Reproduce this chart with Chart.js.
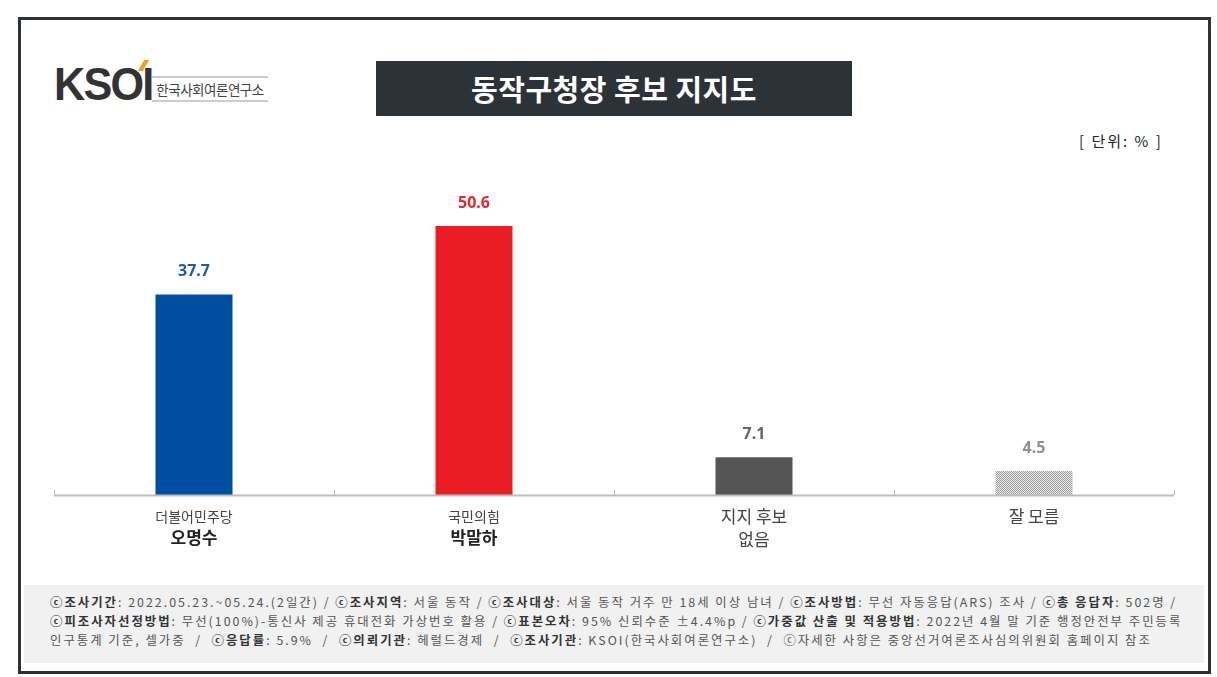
<!DOCTYPE html>
<html>
<head>
<meta charset="utf-8">
<script src="https://cdn.jsdelivr.net/npm/chart.js@4/dist/chart.umd.min.js"></script>
<style>
  html, body { margin:0; padding:0; background:#fff; }
  body { width:1217px; height:677px; position:relative; overflow:hidden; font-family:"Noto Sans CJK KR","Noto Sans",sans-serif; }
  #frame { position:absolute; left:18px; top:17px; width:1187px; height:651px; border:3px solid #2d3237; box-sizing:content-box; }
  #logo { position:absolute; left:54px; top:56px; font-family:"Liberation Sans",Arial,sans-serif; font-weight:bold; font-size:47px; color:#333; letter-spacing:-2px; transform:scaleX(0.92); transform-origin:left; }
  #accent { position:absolute; left:141px; top:60px; width:5px; height:11px; background:#f0a020; transform:skewX(-30deg); }
  #logotxt { position:absolute; left:152px; top:76px; width:116px; border-top:2px solid #ccc; border-bottom:2px solid #ccc; font-size:13.5px; color:#444; line-height:22px; text-align:center; letter-spacing:-0.5px; }
  #title { position:absolute; left:376px; top:61px; width:476px; height:55px; background:#2b3238; color:#fff; font-size:29px; font-weight:bold; text-align:center; line-height:55px; letter-spacing:0.5px; }
  #unit { position:absolute; left:1079px; top:130px; font-size:15px; color:#222; white-space:pre; letter-spacing:2px; }
  #footer { position:absolute; left:24px; top:585px; width:1180px; height:78px; background:#f1f1f1; }
  #footer div { position:absolute; left:26px; font-size:12.4px; color:#555; white-space:pre; line-height:14px; letter-spacing:2px; }
  #footer b { color:#333; }
  canvas { position:absolute; left:0; top:0; }
</style>
</head>
<body>
<div id="frame"></div>
<div id="logo">KSOI</div>
<div id="accent"></div>
<div id="logotxt">한국사회여론연구소</div>
<div id="title">동작구청장 후보 지지도</div>
<div id="unit">[ 단위: % ]</div>
<div id="footer">
  <div style="top:10px"><b>ⓒ조사기간</b>: 2022.05.23.~05.24.(2일간) / <b>ⓒ조사지역</b>: 서울 동작 / <b>ⓒ조사대상</b>: 서울 동작 거주 만 18세 이상 남녀 / <b>ⓒ조사방법</b>: 무선 자동응답(ARS) 조사 / <b>ⓒ총 응답자</b>: 502명 /</div>
  <div style="top:29px"><b>ⓒ피조사자선정방법</b>: 무선(100%)-통신사 제공 휴대전화 가상번호 활용 / <b>ⓒ표본오차</b>: 95% 신뢰수준 ±4.4%p / <b>ⓒ가중값 산출 및 적용방법</b>: 2022년 4월 말 기준 행정안전부 주민등록</div>
  <div style="top:48px">인구통계 기준, 셀가중  /  <b>ⓒ응답률</b>: 5.9%  /  <b>ⓒ의뢰기관</b>: 헤럴드경제  /  <b>ⓒ조사기관</b>: KSOI(한국사회여론연구소)  /  ⓒ자세한 사항은 중앙선거여론조사심의위원회 홈페이지 참조</div>
</div>
<canvas id="c" width="1217" height="677"></canvas>
<script>
const categories = ["오명수", "박말하", "지지 후보 없음", "잘 모름"];
const partyLabels = ["더불어민주당", "국민의힘", null, null];
const nameLabels = [["오명수"], ["박말하"], ["지지 후보", "없음"], ["잘 모름"]];
const values = [37.7, 50.6, 7.1, 4.5];
const valueColors = ["#1f5aa6", "#e8262e", "#666666", "#909090"];
const yMax = 60;

function makePattern() {
  const p = document.createElement('canvas');
  p.width = 2; p.height = 2;
  const g = p.getContext('2d');
  g.fillStyle = '#eeeeee'; g.fillRect(0,0,2,2);
  g.fillStyle = '#9a9a9a'; g.fillRect(0,0,1,1); g.fillRect(1,1,1,1);
  return g.createPattern(p, 'repeat');
}
const ctx0 = document.getElementById('c').getContext('2d');
const barColors = ["#004ea2", "#ec1c24", "#555555", makePattern()];

const decor = {
  id: 'decor',
  afterDatasetsDraw(chart) {
    const ctx = chart.ctx;
    const xs = chart.scales.x, ys = chart.scales.y;
    const a = chart.chartArea;
    const step = xs.getPixelForValue(1) - xs.getPixelForValue(0);
    ctx.save();
    ctx.strokeStyle = '#bdbdbd'; ctx.lineWidth = 2;
    ctx.beginPath(); ctx.moveTo(a.left, a.bottom + 0.5); ctx.lineTo(a.right, a.bottom + 0.5); ctx.stroke();
    ctx.lineWidth = 1;
    for (let i = 0; i <= categories.length; i++) {
      const x = Math.round(xs.getPixelForValue(0) - step/2 + i*step) + 0.5;
      ctx.beginPath(); ctx.moveTo(x, a.bottom); ctx.lineTo(x, a.bottom - 5); ctx.stroke();
    }
    ctx.textAlign = 'center'; ctx.textBaseline = 'middle';
    ctx.font = 'bold 16px "Noto Sans", "Noto Sans CJK KR", sans-serif';
    values.forEach((v, i) => {
      ctx.fillStyle = valueColors[i];
      ctx.fillText(v.toFixed(1), xs.getPixelForValue(i), ys.getPixelForValue(v) - 23);
    });
    categories.forEach((c, i) => {
      const x = xs.getPixelForValue(i);
      let y = a.bottom + 22;
      if (partyLabels[i]) {
        ctx.fillStyle = '#444';
        ctx.font = '14px "Noto Sans CJK KR", sans-serif';
        ctx.fillText(partyLabels[i], x, y);
        y += 21;
        ctx.fillStyle = '#222';
        ctx.font = 'bold 17px "Noto Sans CJK KR", sans-serif';
        nameLabels[i].forEach(t => { ctx.fillText(t, x, y); y += 22; });
      } else {
        ctx.fillStyle = '#444';
        ctx.font = '17px "Noto Sans CJK KR", sans-serif';
        nameLabels[i].forEach(t => { ctx.fillText(t, x, y); y += 23; });
      }
    });
    ctx.restore();
  }
};

new Chart(ctx0, {
  type: 'bar',
  data: {
    labels: categories,
    datasets: [{ data: values, backgroundColor: barColors, borderWidth: 0, categoryPercentage: 1, barPercentage: 0.275 }]
  },
  options: {
    responsive: false,
    animation: false,
    layout: { padding: { left: 54, right: 43, top: 176, bottom: 182 } },
    plugins: { legend: { display: false }, tooltip: { enabled: false } },
    scales: {
      x: { display: false },
      y: { display: false, min: 0, max: yMax }
    }
  },
  plugins: [decor]
});
</script>
</body>
</html>
